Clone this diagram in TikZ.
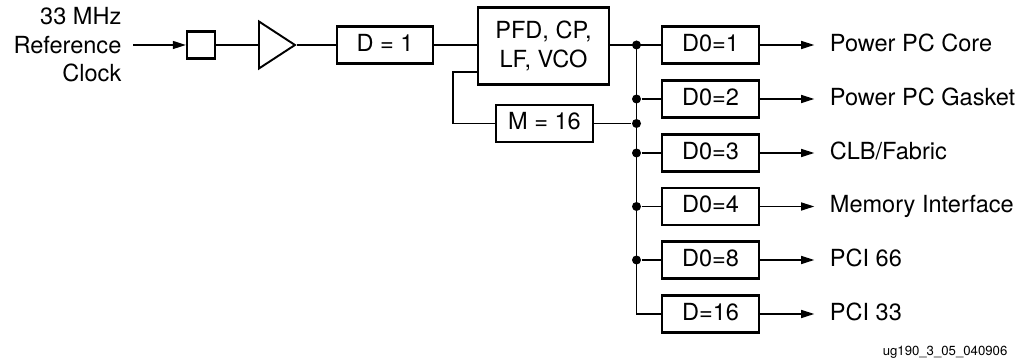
\documentclass[tikz,border=0pt]{standalone}
\usepackage{fontspec}
\setmainfont{TeX Gyre Heros}
\usepackage{tikz}
\usetikzlibrary{arrows.meta,positioning,calc,shapes.geometric}

\begin{document}
\begin{tikzpicture}[
    >={Triangle[length=2.6mm,width=1.6mm]},
    x=2mm, y=2mm,
    line width=0.75pt,
    font=\fontsize{13.4}{16.2}\selectfont,
    blk/.style={draw,line width=1.4pt,minimum width=19.4mm,minimum height=7.4mm,
                inner sep=0pt,text height=0.72em,text depth=0pt},
    pll/.style={draw,line width=1.4pt,minimum width=26.2mm,minimum height=15.4mm,
                inner sep=0pt,align=center},
    pad/.style={draw,line width=1.3pt,minimum width=5.6mm,minimum height=5.4mm,inner sep=0pt},
    buffer/.style={draw,line width=1.1pt,isosceles triangle,isosceles triangle stretches,
                   minimum width=9.4mm,minimum height=7.2mm,inner sep=0pt},
    dest/.style={inner sep=0pt,anchor=west,text height=0.72em,text depth=0pt},
    junc/.style={circle,fill,inner sep=0pt,minimum size=1.8mm},
  ]
  \useasboundingbox (0,0) rectangle (102.6,36);

  % --- input chain ---
  \node[anchor=east,align=right,inner sep=0pt] (refclk) at (12.2,31.5)
       {33 MHz\\Reference\\Clock};
  \node[pad] (ibuf) at (20.1,31.5) {};
  \node[buffer,anchor=lower side] (amp) at (25.8,31.5) {};
  \node[blk,minimum width=19.2mm] (div1) at (38.5,31.5) {D = 1};
  \node[pll] (pfd) at (54.35,31.4) {PFD, CP,\\LF, VCO};
  \node[blk] (mul) at (54.45,23.65) {M = 16};

  % --- output dividers ---
  \node[blk] (d01) at (71.05,31.5)  {D0=1};
  \node[blk] (d02) at (71.05,26.1)  {D0=2};
  \node[blk] (d03) at (71.05,20.7)  {D0=3};
  \node[blk] (d04) at (71.05,15.35) {D0=4};
  \node[blk] (d08) at (71.05,10.0)  {D0=8};
  \node[blk] (d16) at (71.05,4.6)   {D=16};

  \node[dest,right=13.8mm of d01] (core)   {Power PC Core};
  \node[dest,right=13.8mm of d02] (gasket) {Power PC Gasket};
  \node[dest,right=13.8mm of d03] (clb)    {CLB/Fabric};
  \node[dest,right=13.8mm of d04] (mem)    {Memory Interface};
  \node[dest,right=13.8mm of d08] (pci66)  {PCI 66};
  \node[dest,right=13.8mm of d16] (pci33)  {PCI 33};

  % --- bus and junctions ---
  \coordinate (bus) at (63.65,31.5);
  \node[junc] (j1) at (bus |- d01) {};
  \node[junc] (j2) at (bus |- d02) {};
  \node[junc] (jm) at (bus |- mul) {};
  \node[junc] (j3) at (bus |- d03) {};
  \node[junc] (j4) at (bus |- d04) {};
  \node[junc] (j8) at (bus |- d08) {};

  % --- connections ---
  \draw[->,shorten <=2.2mm] (refclk) -- (ibuf);
  \draw (ibuf) -- (amp);
  \draw (amp.apex) -- (div1);
  \draw (div1) -- (div1 -| pfd.west);
  \draw (pfd.east |- d01) -- (d01);
  \coordinate (fbout) at ($(pfd.west)+(0,-2.6)$);
  \coordinate (fbturn) at (45.3,23.65);
  \draw (fbout) -| (fbturn) -- (mul);
  \draw (mul) -- (jm);
  \draw (bus) |- (d16);
  \draw (j2) -- (d02);
  \draw (j3) -- (d03);
  \draw (j4) -- (d04);
  \draw (j8) -- (d08);

  \draw[->,shorten >=3mm] (d01) -- (core);
  \draw[->,shorten >=3mm] (d02) -- (gasket);
  \draw[->,shorten >=3mm] (d03) -- (clb);
  \draw[->,shorten >=3mm] (d04) -- (mem);
  \draw[->,shorten >=3mm] (d08) -- (pci66);
  \draw[->,shorten >=3mm] (d16) -- (pci33);

  % --- figure id ---
  \node[anchor=east,inner sep=0pt,font=\fontsize{7.5}{9}\selectfont] (figid)
       at (100.8,0.8) {ug190\_3\_05\_040906};
\end{tikzpicture}
\end{document}
